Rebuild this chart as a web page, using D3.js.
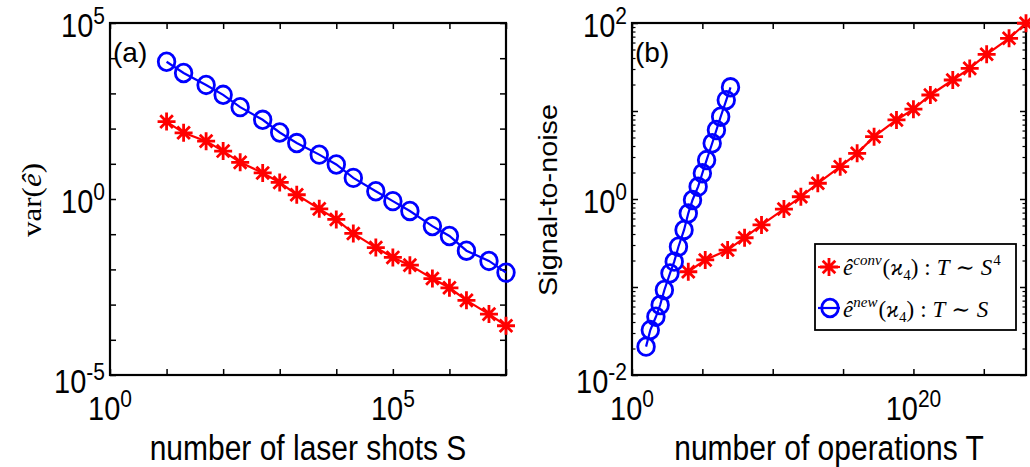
<!DOCTYPE html>
<html>
<head>
<meta charset="utf-8">
<title>variance and signal-to-noise</title>
<script src="https://cdn.jsdelivr.net/npm/d3@7"></script>
<style>
  body { margin: 0; background: #fff; }
  text { font-family: "Liberation Sans", Arial, sans-serif; }
  .math { font-family: "Liberation Serif", "DejaVu Serif", serif; }
</style>
</head>
<body>
<script>
var width = 1030,
    height = 467,
    stretch = 1.15;   // the figure's text is drawn taller than it is wide

// number of laser shots S (both estimators)
var shots = [10, 20, 50, 100, 200, 500, 1e3, 2e3, 5e3, 1e4, 2e4, 5e4, 1e5, 2e5, 5e5, 1e6, 2e6, 5e6, 1e7];

// panel (a): var(e) for the two estimators
var varConv = [158, 76, 44, 23, 11, 5.5, 2.95, 1.32, 0.525, 0.263, 0.105, 0.0417, 0.0219, 0.0132, 0.0055, 0.0030, 0.00132, 0.000537, 0.000251];
var varNew = [7940, 3800, 1740, 912, 407, 178, 77.6, 38.9, 18.2, 9.55, 3.98, 1.66, 0.87, 0.457, 0.17, 0.089, 0.034, 0.0174, 0.0081];

// panel (b): number of operations T and signal-to-noise
var opsConv = [1e4, 1.6e5, 6.25e6, 1e8, 1.6e9, 6.25e10, 1e12, 1.6e13, 6.25e14, 1e16, 1.6e17, 6.25e18, 1e20, 1.6e21, 6.25e22, 1e24, 1.6e25, 6.25e26, 1e28];
var snrConv = [0.149, 0.203, 0.263, 0.363, 0.507, 0.769, 1.06, 1.51, 2.33, 3.30, 5.11, 7.91, 10.5, 15.2, 22.5, 30.5, 44.1, 67.0, 99.3];
var opsNew = [10, 20, 50, 100, 200, 500, 1e3, 2e3, 5e3, 1e4, 2e4, 5e4, 1e5, 2e5, 5e5, 1e6, 2e6, 5e6, 1e7];
var snrNew = [0.021, 0.0324, 0.0459, 0.0624, 0.0925, 0.143, 0.194, 0.287, 0.445, 0.687, 0.975, 1.38, 1.96, 2.77, 4.30, 6.08, 8.61, 13.3, 18.6];

// ticks
var xTicksA = [1, 10, 100, 1e3, 1e4, 1e5, 1e6, 1e7];
var xLabelsA = [0, 5];
var yTicksA = [1e-5, 1e-4, 1e-3, 1e-2, 1e-1, 1, 10, 100, 1e3, 1e4, 1e5];
var yLabelsA = [-5, 0, 5];
var xTicksB = [1, 1e5, 1e10, 1e15, 1e20, 1e25];
var xLabelsB = [0, 20];
var yTicksB = [1e-2, 1e-1, 1, 10, 100];
var yMinorB = [2e-2, 3e-2, 4e-2, 5e-2, 6e-2, 7e-2, 8e-2, 9e-2, 0.2, 0.3, 0.4, 0.5, 0.6, 0.7, 0.8, 0.9, 2, 3, 4, 5, 6, 7, 8, 9, 20, 30, 40, 50, 60, 70, 80, 90];
var yLabelsB = [-2, 0, 2];

var svg = d3.select("body")
  .append("svg")
  .attr("width", width)
  .attr("height", height);

// text placed at (x,y), stretched vertically; rot = -90 for y titles
function txt(parent, x, y, size, rot) {
  var tf = "translate(" + x + "," + y + ")" +
    (rot ? " rotate(" + rot + ") scale(" + stretch + ",1)" : " scale(1," + stretch + ")");
  return parent.append("text")
    .attr("transform", tf)
    .style("font-size", size + "px");
}

function star(s) {
  var d = s * 0.7;
  return "M" + (-s) + ",0L" + s + ",0M0," + (-s) + "L0," + s +
    "M" + (-d) + "," + (-d) + "L" + d + "," + d + "M" + (-d) + "," + d + "L" + d + "," + (-d);
}

function powLabel(g, x, y, e, anchor) {
  var t = txt(g, x, y, 29).attr("text-anchor", anchor).text("10");
  t.append("tspan")
    .attr("dy", -11)
    .style("font-size", "21px")
    .text(e);
}

function panel(opt) {
  var x = d3.scaleLog().domain(opt.xDomain).range([opt.left, opt.right]);
  var y = d3.scaleLog().domain(opt.yDomain).range([375, 23]);
  var g = svg.append("g");

  var axes = [
    [d3.axisBottom(x).tickValues(opt.xTicks), "translate(0,375)"],
    [d3.axisTop(x).tickValues(opt.xTicks), "translate(0,23)"],
    [d3.axisLeft(y).tickValues(opt.yTicks), "translate(" + opt.left + ",0)"],
    [d3.axisRight(y).tickValues(opt.yTicks), "translate(" + opt.right + ",0)"]
  ];
  axes.forEach(function (a) {
    var ax = g.append("g").attr("transform", a[1])
      .call(a[0].tickSize(-6).tickSizeOuter(0).tickFormat(""));
    ax.select(".domain").remove();
    ax.selectAll("line").attr("stroke-width", 1.5);
  });
  if (opt.yMinor) {
    [[d3.axisLeft(y), opt.left], [d3.axisRight(y), opt.right]].forEach(function (a) {
      var ax = g.append("g").attr("transform", "translate(" + a[1] + ",0)")
        .call(a[0].tickValues(opt.yMinor).tickSize(-3.5).tickSizeOuter(0).tickFormat(""));
      ax.select(".domain").remove();
      ax.selectAll("line").attr("stroke-width", 1.2);
    });
  }

  g.append("rect")
    .attr("x", opt.left).attr("y", 23)
    .attr("width", opt.right - opt.left).attr("height", 352)
    .attr("fill", "none").attr("stroke", "#000").attr("stroke-width", 2.2);

  opt.xLabels.forEach(function (e) {
    powLabel(g, x(Math.pow(10, e)), 420, e, "middle");
  });
  opt.yLabels.forEach(function (e, i) {
    var yy = y(Math.pow(10, e)) + (i === 0 ? 18 : 14);
    powLabel(g, opt.left - 5, yy, e, "end");
  });

  var line = d3.line()
    .x(function (d) { return x(d[0]); })
    .y(function (d) { return y(d[1]); });

  var red = d3.zip(opt.xConv, opt.yConv),
      blue = d3.zip(opt.xNew, opt.yNew);

  g.append("path").datum(red)
    .attr("d", line).attr("fill", "none")
    .attr("stroke", "#ff0000").attr("stroke-width", 2.2);
  g.selectAll(".st").data(red).enter().append("path")
    .attr("transform", function (d) { return "translate(" + x(d[0]) + "," + y(d[1]) + ")"; })
    .attr("d", star(9))
    .attr("stroke", "#ff0000").attr("stroke-width", 2.8).attr("fill", "none");

  g.append("path").datum(blue)
    .attr("d", line).attr("fill", "none")
    .attr("stroke", "#0000ff").attr("stroke-width", 2.2);
  g.selectAll(".ci").data(blue).enter().append("ellipse")
    .attr("cx", function (d) { return x(d[0]); })
    .attr("cy", function (d) { return y(d[1]); })
    .attr("rx", 8.3).attr("ry", 8.8)
    .attr("stroke", "#0000ff").attr("stroke-width", 2.8).attr("fill", "none");

  g.append("text")
    .attr("x", opt.left + 3).attr("y", 62)
    .style("font-size", "28px")
    .text(opt.tag);

  return g;
}

panel({
  left: 110, right: 506,
  xDomain: [1, 1e7], yDomain: [1e-5, 1e5],
  xTicks: xTicksA, yTicks: yTicksA,
  xLabels: xLabelsA, yLabels: yLabelsA,
  xConv: shots, yConv: varConv, xNew: shots, yNew: varNew,
  tag: "(a)"
});

panel({
  left: 632, right: 1026,
  xDomain: [1, 1e28], yDomain: [1e-2, 1e2],
  xTicks: xTicksB, yTicks: yTicksB, yMinor: yMinorB,
  xLabels: xLabelsB, yLabels: yLabelsB,
  xConv: opsConv, yConv: snrConv, xNew: opsNew, yNew: snrNew,
  tag: "(b)"
});

// axis titles
txt(svg, 308, 460, 30).attr("text-anchor", "middle").text("number of laser shots S");
txt(svg, 829, 460, 30).attr("text-anchor", "middle").text("number of operations T");
txt(svg, 557, 200, 25, -90).attr("text-anchor", "middle").text("Signal-to-noise");

var vl = txt(svg, 41, 200, 27, -90)
  .attr("class", "math")
  .attr("text-anchor", "middle");
vl.append("tspan").text("var(");
vl.append("tspan").style("font-style", "italic").text("ê");
vl.append("tspan").text(")");

// legend
var lg = svg.append("g");
lg.append("rect")
  .attr("x", 815).attr("y", 244)
  .attr("width", 201).attr("height", 86)
  .attr("fill", "#fff").attr("stroke", "#000").attr("stroke-width", 1.8);

function legendText(yy, sup, tail) {
  var t = lg.append("text").attr("class", "math")
    .attr("x", 843).attr("y", yy)
    .style("font-size", "23px");
  t.append("tspan").style("font-style", "italic").text("ê");
  t.append("tspan").style("font-style", "italic").style("font-size", "15px").attr("dy", -10).text(sup);
  t.append("tspan").attr("dy", 10).attr("dx", 1).text("(");
  t.append("tspan").style("font-style", "italic").text("ϰ");
  t.append("tspan").style("font-size", "15px").attr("dy", 5).text("4");
  t.append("tspan").attr("dy", -5).text(")");
  t.append("tspan").attr("dx", 6).text(":");
  t.append("tspan").attr("dx", 6).style("font-style", "italic").text("T");
  t.append("tspan").attr("dx", 6).text("∼");
  t.append("tspan").attr("dx", 6).style("font-style", "italic").text("S");
  if (tail) t.append("tspan").style("font-size", "15px").attr("dy", -10).attr("dx", 1).text(tail);
}

lg.append("line").attr("x1", 818).attr("x2", 840).attr("y1", 267).attr("y2", 267)
  .attr("stroke", "#ff0000").attr("stroke-width", 2.2);
lg.append("path").attr("transform", "translate(829,267)").attr("d", star(9))
  .attr("stroke", "#ff0000").attr("stroke-width", 2.8).attr("fill", "none");
legendText(275, "conv", "4");

lg.append("line").attr("x1", 818).attr("x2", 840).attr("y1", 308).attr("y2", 308)
  .attr("stroke", "#0000ff").attr("stroke-width", 2.2);
lg.append("ellipse").attr("cx", 830).attr("cy", 308).attr("rx", 8.3).attr("ry", 8.8)
  .attr("stroke", "#0000ff").attr("stroke-width", 2.8).attr("fill", "none");
legendText(317, "new", null);
</script>
</body>
</html>
